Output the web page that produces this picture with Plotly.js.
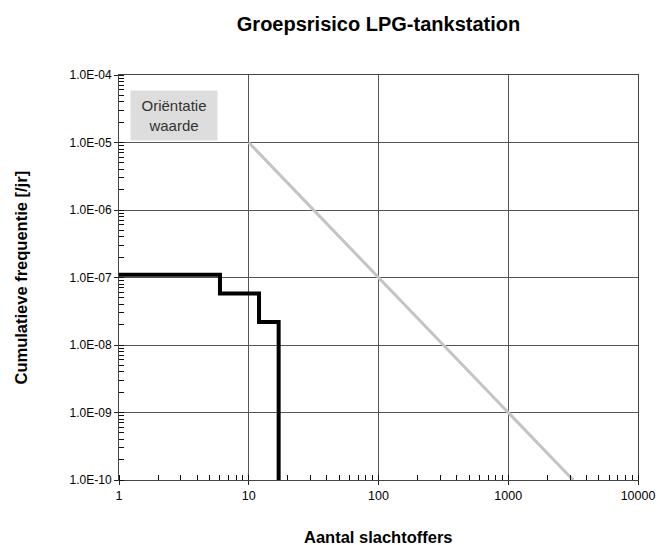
<!DOCTYPE html>
<html>
<head>
<meta charset="utf-8">
<script src="https://cdn.plot.ly/plotly-3.0.1.min.js"></script>
<style>html,body{margin:0;padding:0;background:#fff;}#chart{width:659px;height:545px;}</style>
</head>
<body>
<div id="chart"></div>
<script>
// Group risk curve (FN curve) of the LPG station
var victims = [1, 6, 12, 17];
var frequency = [1.1e-7, 5.8e-8, 2.2e-8, 1e-10];
// Orientation value line
var orientN = [10, 100, 1000, 3162];
var orientF = [1e-5, 1e-7, 1e-9, 1e-10];
var yTickVals = [1e-10, 1e-9, 1e-8, 1e-7, 1e-6, 1e-5, 1e-4];
var yTickText = ["1.0E-10", "1.0E-09", "1.0E-08", "1.0E-07", "1.0E-06", "1.0E-05", "1.0E-04"];
var xTickVals = [1, 10, 100, 1000, 10000];
var xTickText = ["1", "10", "100", "1000", "10000"];

var font = "Liberation Sans, Arial, sans-serif";
var traces = [
  {x: orientN, y: orientF, mode: "lines", line: {color: "#c4c4c4", width: 3}, hoverinfo: "skip", cliponaxis: false},
  {x: victims, y: frequency, mode: "lines", line: {color: "#000", width: 4, shape: "hv"}, cliponaxis: false}
];
var layout = {
  width: 659, height: 545,
  margin: {l: 119, r: 21, t: 74.5, b: 65},
  paper_bgcolor: "#fff", plot_bgcolor: "#fff",
  showlegend: false,
  font: {family: font, size: 12, color: "#000"},
  title: {text: "<b>Groepsrisico LPG-tankstation</b>", font: {family: font, size: 20, color: "#000"}, x: 0.5, xref: "paper", y: 0.956, yanchor: "middle"},
  xaxis: {
    type: "log", range: [0, 4],
    tickvals: xTickVals, ticktext: xTickText,
    ticks: "outside", ticklen: 4, tickcolor: "#222",
    showline: true, linecolor: "#444", linewidth: 1, mirror: true,
    showgrid: true, gridcolor: "#555", gridwidth: 1,
    minor: {ticks: "inside", ticklen: 5, tickcolor: "#111", tickwidth: 1, dtick: "D1", showgrid: false},
    zeroline: false, automargin: false,
    tickfont: {family: font, size: 12.5}
  },
  yaxis: {
    type: "log", range: [-10, -4],
    tickvals: yTickVals, ticktext: yTickText,
    ticks: "outside", ticklen: 4, tickcolor: "#222",
    showline: true, linecolor: "#444", linewidth: 1, mirror: true,
    showgrid: true, gridcolor: "#555", gridwidth: 1,
    minor: {ticks: "inside", ticklen: 5, tickcolor: "#111", tickwidth: 1, dtick: "D1", showgrid: false},
    zeroline: false, automargin: false,
    tickfont: {family: font, size: 12}
  },
  annotations: [
    {
      xref: "paper", yref: "paper", x: 0.106, y: 0.899, xanchor: "center", yanchor: "middle",
      text: "Oriëntatie<br>waarde", showarrow: false,
      bgcolor: "#dddddd", width: 84, height: 47,
      font: {family: font, size: 15, color: "#333"}, align: "center"
    },
    {
      xref: "paper", yref: "paper", x: 0.5, y: 0, xanchor: "center", yanchor: "middle", yshift: -57,
      text: "<b>Aantal slachtoffers</b>", showarrow: false,
      font: {family: font, size: 16.5, color: "#000"}
    },
    {
      xref: "paper", yref: "paper", x: 0, y: 0.5, xanchor: "center", yanchor: "middle", xshift: -99,
      text: "<b>Cumulatieve frequentie [/jr]</b>", showarrow: false, textangle: -90,
      font: {family: font, size: 16.5, color: "#000"}
    }
  ]
};
Plotly.newPlot("chart", traces, layout, {displayModeBar: false, staticPlot: true});
</script>
</body>
</html>
